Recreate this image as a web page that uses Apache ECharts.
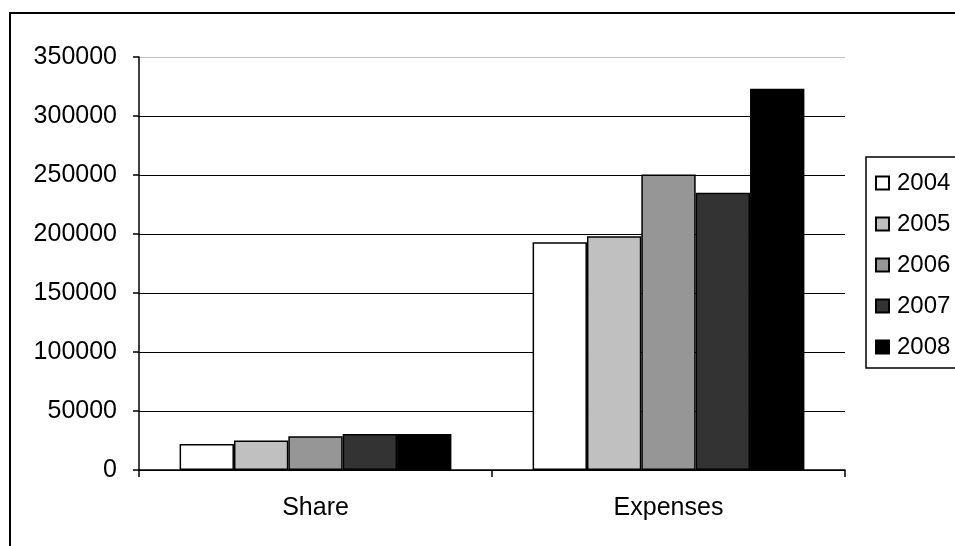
<!DOCTYPE html>
<html>
<head>
<meta charset="utf-8">
<script src="https://cdn.jsdelivr.net/npm/echarts@6/dist/echarts.min.js"></script>
<style>
html,body{margin:0;padding:0;background:#fff;}
#chart{width:955px;height:546px;}
</style>
</head>
<body>
<div id="chart"></div>
<script>
const categories = ['Share', 'Expenses'];
const years = ['2004', '2005', '2006', '2007', '2008'];
const values2004 = [22000, 193000];
const values2005 = [25000, 198000];
const values2006 = [28500, 250500];
const values2007 = [30500, 235000];
const values2008 = [30500, 323000];
const yearColors = ['#ffffff', '#c0c0c0', '#969696', '#333333', '#000000'];

const seriesValues = [values2004, values2005, values2006, values2007, values2008];
const font = 'Liberation Sans, Arial, sans-serif';

const chart = echarts.init(document.getElementById('chart'), null, {renderer: 'canvas'});
chart.setOption({
  animation: false,
  backgroundColor: '#ffffff',
  textStyle: {fontFamily: font},
  graphic: [{
    type: 'rect',
    shape: {x: 10, y: 13, width: 1100, height: 700},
    style: {fill: 'none', stroke: '#000', lineWidth: 2},
    silent: true,
    z: -1
  }],
  grid: {left: 139, right: 110, top: 57, bottom: 76, containLabel: false},
  legend: {
    orient: 'vertical',
    left: 866,
    top: 157,
    padding: [14, 60, 9, 9],
    itemGap: 17,
    itemWidth: 13,
    itemHeight: 13,
    borderColor: '#000',
    borderWidth: 1.5,
    icon: 'rect',
    textStyle: {fontSize: 24, color: '#000', fontFamily: font, lineHeight: 24, padding: [0, 0, 0, 3]},
    data: years
  },
  xAxis: {
    type: 'category',
    data: categories,
    axisLine: {show: true, lineStyle: {color: '#000', width: 1.5}},
    axisTick: {show: true, length: 7, interval: 0, lineStyle: {color: '#000', width: 1.5}},
    axisLabel: {fontSize: 25, color: '#000', margin: 26, fontFamily: font},
    splitLine: {show: false}
  },
  yAxis: {
    type: 'value',
    min: 0,
    max: 350000,
    interval: 50000,
    axisLine: {show: true, lineStyle: {color: '#000', width: 1.5}},
    axisTick: {show: true, length: 6, lineStyle: {color: '#000', width: 1.5}},
    axisLabel: {fontSize: 25, color: '#000', margin: 22, fontFamily: font, formatter: v => String(v)},
    splitLine: {show: true, lineStyle: {color: ['#000', '#000', '#000', '#000', '#000', '#000', '#000', '#c0c0c0'], width: 1.2}}
  },
  series: years.map((y, i) => ({
    name: y,
    type: 'bar',
    data: seriesValues[i],
    barGap: '0%',
    barCategoryGap: '23%',
    itemStyle: {color: yearColors[i], borderColor: '#000', borderWidth: 1.5}
  }))
});
</script>
</body>
</html>
